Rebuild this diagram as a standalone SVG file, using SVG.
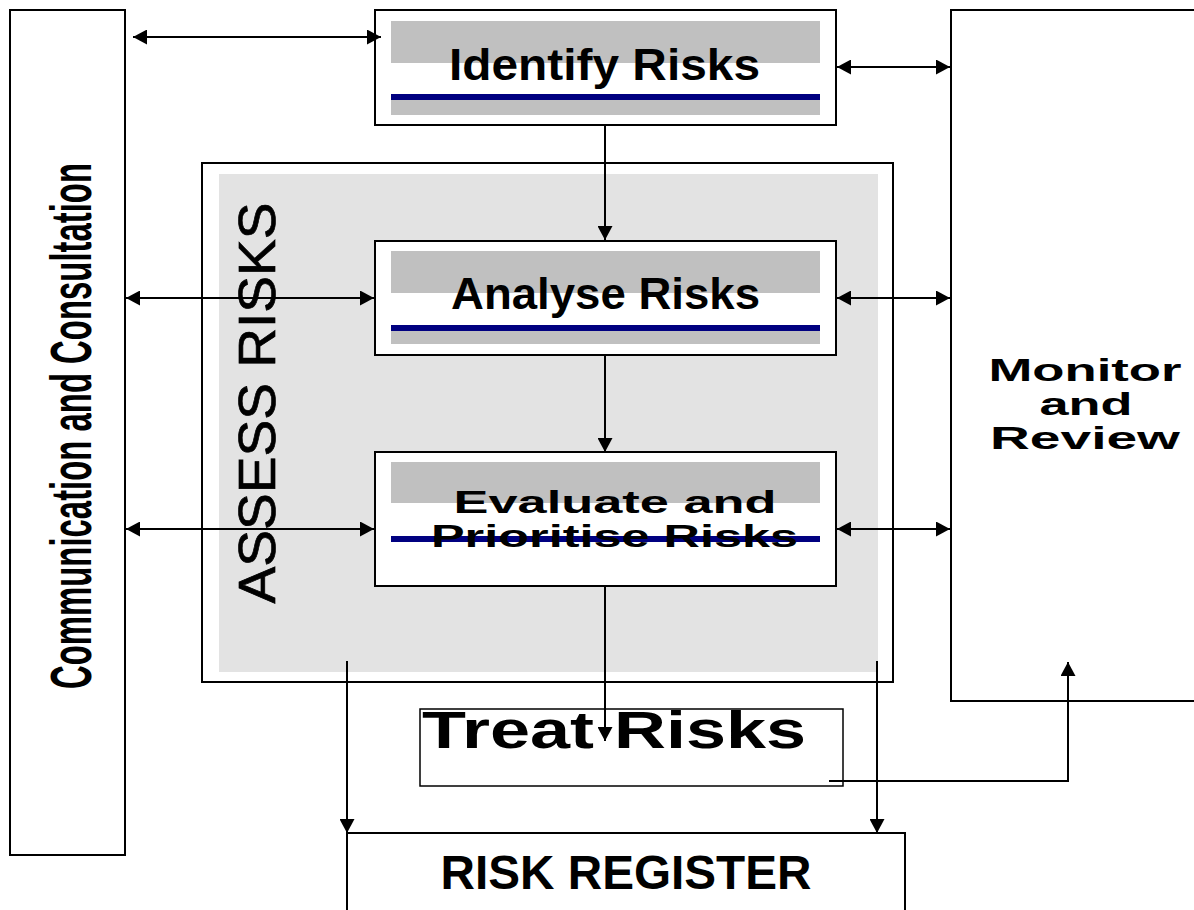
<svg xmlns="http://www.w3.org/2000/svg" width="1194" height="910" viewBox="0 0 1194 910">
  <defs>
    <marker id="arrow" markerUnits="userSpaceOnUse" markerWidth="14" markerHeight="15" refX="14" refY="7.5" orient="auto-start-reverse">
      <path d="M0,0 L14,7.5 L0,15 Z" fill="#000"/>
    </marker>
  </defs>
  <style>
    .box { fill: #fff; stroke: #000; stroke-width: 2; }
    .band { fill: #c0c0c0; }
    .rule { fill: #000080; }
    .lbl { font-family: "Liberation Sans", Arial, sans-serif; font-weight: bold; fill: #000; }
    .conn { fill: none; stroke: #000; stroke-width: 2; }
    .both { marker-start: url(#arrow); marker-end: url(#arrow); }
    .one { marker-end: url(#arrow); }
  </style>

  <rect width="1194" height="910" fill="#fff"/>

  <!-- assessment stage container -->
  <g id="assess-risks">
    <rect class="box" x="202" y="163" width="691" height="519"/>
    <rect x="219" y="174" width="659" height="498" fill="#e3e3e3"/>
    <text transform="translate(275,403) rotate(-90)" text-anchor="middle" font-family="'Liberation Sans', Arial, sans-serif" font-size="52" stroke="#000" stroke-width="0.7" textLength="401" lengthAdjust="spacingAndGlyphs">ASSESS RISKS</text>
  </g>

  <g id="communication">
    <rect class="box" x="10" y="10" width="115" height="845"/>
    <text class="lbl" transform="translate(91,426) rotate(-90)" text-anchor="middle" font-size="58" textLength="526" lengthAdjust="spacingAndGlyphs">Communication and Consultation</text>
  </g>

  <g id="monitor">
    <rect class="box" x="951" y="10" width="260" height="691"/>
    <text class="lbl" x="1085" y="381" text-anchor="middle" font-size="32" textLength="193" lengthAdjust="spacingAndGlyphs">Monitor</text>
    <text class="lbl" x="1086" y="415" text-anchor="middle" font-size="32" textLength="93" lengthAdjust="spacingAndGlyphs">and</text>
    <text class="lbl" x="1085" y="449" text-anchor="middle" font-size="32" textLength="190" lengthAdjust="spacingAndGlyphs">Review</text>
  </g>

  <g id="identify">
    <rect class="box" x="375" y="10" width="461" height="115"/>
    <rect class="band" x="391" y="21" width="429" height="42"/>
    <rect class="band" x="391" y="100" width="429" height="15"/>
    <rect class="rule" x="391" y="94" width="429" height="6"/>
    <text class="lbl" x="604.5" y="80" text-anchor="middle" font-size="45" textLength="311" lengthAdjust="spacingAndGlyphs">Identify Risks</text>
  </g>

  <g id="analyse">
    <rect class="box" x="375" y="241" width="461" height="114"/>
    <rect class="band" x="391" y="251" width="429" height="42"/>
    <rect class="band" x="391" y="330" width="429" height="14"/>
    <rect class="rule" x="391" y="325" width="429" height="6"/>
    <text class="lbl" x="605.5" y="309" text-anchor="middle" font-size="44" textLength="309" lengthAdjust="spacingAndGlyphs">Analyse Risks</text>
  </g>

  <g id="evaluate">
    <rect class="box" x="375" y="452" width="461" height="134"/>
    <rect class="band" x="391" y="462" width="429" height="41"/>
    <rect class="rule" x="391" y="536" width="429" height="6"/>
    <text class="lbl" x="615" y="513" text-anchor="middle" font-size="32" textLength="323" lengthAdjust="spacingAndGlyphs">Evaluate and</text>
    <text class="lbl" x="614.5" y="547" text-anchor="middle" font-size="32" textLength="367" lengthAdjust="spacingAndGlyphs">Prioritise Risks</text>
  </g>

  <g id="treat">
    <rect x="420" y="709" width="423" height="77" fill="#fff" stroke="#000" stroke-width="1.5"/>
    <text class="lbl" x="422" y="748" font-size="51" textLength="384" lengthAdjust="spacingAndGlyphs">Treat Risks</text>
  </g>

  <g id="register">
    <rect class="box" x="347" y="833" width="558" height="100"/>
    <text class="lbl" x="626" y="889" text-anchor="middle" font-size="48" textLength="371" lengthAdjust="spacingAndGlyphs">RISK REGISTER</text>
  </g>

  <g id="connectors">
    <!-- consultation links -->
    <line class="conn both" x1="133" y1="37" x2="381" y2="37"/>
    <line class="conn both" x1="126" y1="298" x2="374" y2="298"/>
    <line class="conn both" x1="126" y1="529" x2="374" y2="529"/>
    <!-- monitoring links -->
    <line class="conn both" x1="837" y1="67" x2="950" y2="67"/>
    <line class="conn both" x1="837" y1="298" x2="950" y2="298"/>
    <line class="conn both" x1="837" y1="529" x2="950" y2="529"/>
    <!-- main process flow -->
    <line class="conn one" x1="605" y1="125" x2="605" y2="240"/>
    <line class="conn one" x1="605" y1="355" x2="605" y2="452"/>
    <line class="conn one" x1="605" y1="586" x2="605" y2="741"/>
    <!-- records to register -->
    <line class="conn one" x1="347" y1="661" x2="347" y2="833"/>
    <line class="conn one" x1="877" y1="661" x2="877" y2="833"/>
    <!-- treatment feedback to monitoring -->
    <polyline class="conn one" points="829,781 1068,781 1068,662"/>
  </g>
</svg>
